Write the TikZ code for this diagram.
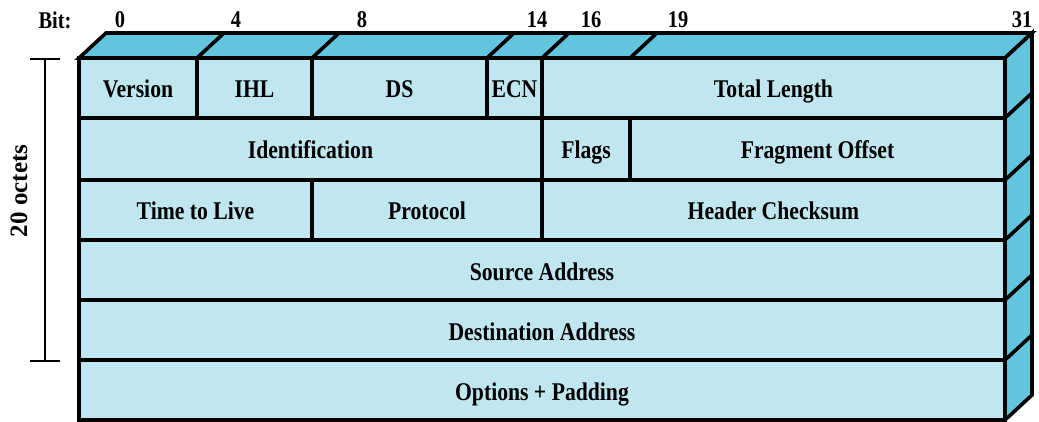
\documentclass[tikz,border=0pt]{standalone}
\usepackage{fontspec}
\newfontfamily\labfont[FakeStretch=0.85]{Liberation Serif}
\newfontfamily\octfont{Liberation Serif}
\definecolor{frontc}{RGB}{192,230,240}
\definecolor{sidec}{RGB}{99,196,222}
\begin{document}
\begin{tikzpicture}[x=1pt,y=-1pt,
  field/.style={draw, line width=3.6pt, fill=frontc, inner sep=0pt, outer sep=0pt,
    anchor=north west, text height=20pt, text depth=0pt,
    font=\labfont\bfseries\fontsize{25.5}{28}\selectfont},
  lab/.style={inner sep=0pt, font=\labfont\bfseries\fontsize{24}{27}\selectfont},
  face/.style={draw, line width=3.6pt, fill=sidec, line join=miter},
  edge/.style={line width=3.6pt}]
\useasboundingbox (0,0) rectangle (1039,422);
% top and right faces
\draw[face] (79,58) -- (106,33) -- (1032,33) -- (1005,58) -- cycle;
\draw[face] (1005,58) -- (1032,33) -- (1032,395) -- (1005,420) -- cycle;
\foreach \x in {197,312,487,542,630} \draw[edge] (\x,58) -- (\x+27,33);
\foreach \y in {118,180,240,300,360} \draw[edge] (1005,\y) -- (1032,\y-25);
% row 1
\node[field, minimum width=118pt, minimum height=60pt] (ver) at (79,58) {Version};
\node[field, minimum width=115pt, minimum height=60pt] (ihl) at (197,58) {IHL};
\node[field, minimum width=175pt, minimum height=60pt] (ds) at (312,58) {DS};
\node[field, minimum width=55pt, minimum height=60pt] (ecn) at (487,58) {ECN};
\node[field, minimum width=463pt, minimum height=60pt] (tl) at (542,58) {Total Length};
% row 2
\node[field, minimum width=463pt, minimum height=62pt] (id) at (79,118) {Identification};
\node[field, minimum width=88pt, minimum height=62pt] (fl) at (542,118) {Flags};
\node[field, minimum width=375pt, minimum height=62pt] (fo) at (630,118) {Fragment Offset};
% row 3
\node[field, minimum width=233pt, minimum height=60pt] (ttl) at (79,180) {Time to Live};
\node[field, minimum width=230pt, minimum height=60pt] (pr) at (312,180) {Protocol};
\node[field, minimum width=463pt, minimum height=60pt] (hc) at (542,180) {Header Checksum};
% rows 4-6
\node[field, minimum width=926pt, minimum height=60pt] (sa) at (79,240) {Source Address};
\node[field, minimum width=926pt, minimum height=60pt] (da) at (79,300) {Destination Address};
\node[field, minimum width=926pt, minimum height=60pt] (op) at (79,360) {Options + Padding};
% bit labels
\node[lab] (bit) at (55,20) {Bit:};
\node[lab] (b0) at (120,20) {0};
\node[lab] (b4) at (236,20) {4};
\node[lab] (b8) at (362,20) {8};
\node[lab] (b14) at (537,20) {14};
\node[lab] (b16) at (591,20) {16};
\node[lab] (b19) at (678,20) {19};
\node[lab] (b31) at (1022,20) {31};
% bracket
\coordinate (bt) at (45,59);
\coordinate (bb) at (45,361);
\draw[line width=2.2pt] (bt) -- (bb);
\draw[line width=2.2pt] ([xshift=-15pt]bt) -- ([xshift=15pt]bt);
\draw[line width=2.2pt] ([xshift=-15pt]bb) -- ([xshift=15pt]bb);
\node[inner sep=0pt, rotate=90, font=\octfont\bfseries\fontsize{25}{28}\selectfont] (oct) at (19,191) {20 octets};
\end{tikzpicture}
\end{document}
